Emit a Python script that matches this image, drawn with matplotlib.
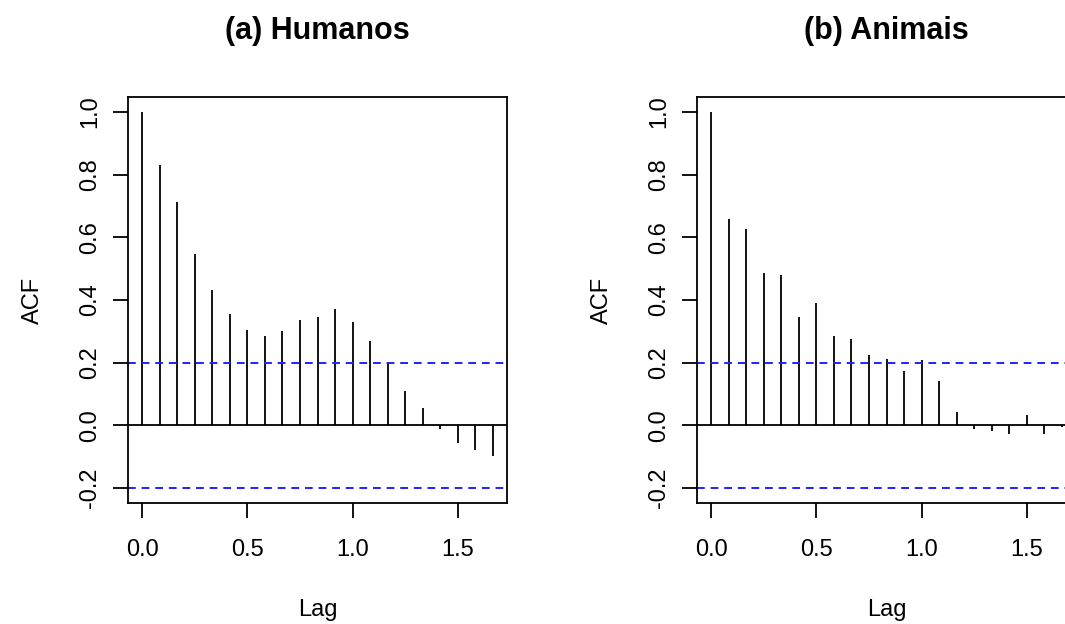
import matplotlib.pyplot as plt

plt.rcParams['font.family'] = ['Liberation Sans', 'DejaVu Sans']

# Lags in years (monthly data, lags 0 to 20)
lags = [i / 12 for i in range(21)]

# ACF
acf_humanos = [1.0, 0.831, 0.714, 0.546, 0.433, 0.355, 0.305, 0.285, 0.300, 0.337,
               0.347, 0.371, 0.331, 0.269, 0.201, 0.110, 0.054, -0.012, -0.058, -0.078, -0.098]
acf_animais = [1.0, 0.658, 0.628, 0.485, 0.479, 0.346, 0.392, 0.285, 0.274, 0.223,
               0.213, 0.172, 0.207, 0.142, 0.044, -0.012, -0.017, -0.027, 0.033, -0.027, -0.006]

# Confidence limit
clim = 0.2

titles = ['(a) Humanos', '(b) Animais']
series = [acf_humanos, acf_animais]
lefts = [128 / 1065, 697 / 1065]

fig = plt.figure(figsize=(10.65, 6.24), dpi=100)

for left, title, acf in zip(lefts, titles, series):
    ax = fig.add_axes([left, 121 / 624, 379 / 1065, 406 / 624])
    ax.vlines(lags, 0, acf, color='black', linewidth=1.3)
    ax.axhline(0, color='black', linewidth=1.3)
    for c in (clim, -clim):
        ax.axhline(c, color='#2020ff', linewidth=1.4, linestyle=(0, (4, 3)))

    ax.set_xlim(-0.0667, 1.7333)
    ax.set_ylim(-0.248, 1.048)
    ax.set_xticks([0.0, 0.5, 1.0, 1.5])
    ax.set_xticklabels(['0.0', '0.5', '1.0', '1.5'])
    ax.set_yticks([-0.2, 0.0, 0.2, 0.4, 0.6, 0.8, 1.0])
    ax.set_yticklabels(['-0.2', '0.0', '0.2', '0.4', '0.6', '0.8', '1.0'])

    for s in ax.spines.values():
        s.set_linewidth(1.3)
        s.set_color('black')
    ax.tick_params(direction='out', length=10.5, width=1.3, labelsize=17,
                   colors='black')
    ax.tick_params(axis='x', pad=15.5)
    ax.tick_params(axis='y', pad=9)
    for lab in ax.get_yticklabels():
        lab.set_rotation(90)
        lab.set_va('center')

    ax.set_title(title, fontsize=22, fontweight='bold', pad=42)
    ax.set_xlabel('Lag', fontsize=17, labelpad=27)
    ax.set_ylabel('ACF', fontsize=17, labelpad=25)

fig.savefig('out.png', dpi=100)
